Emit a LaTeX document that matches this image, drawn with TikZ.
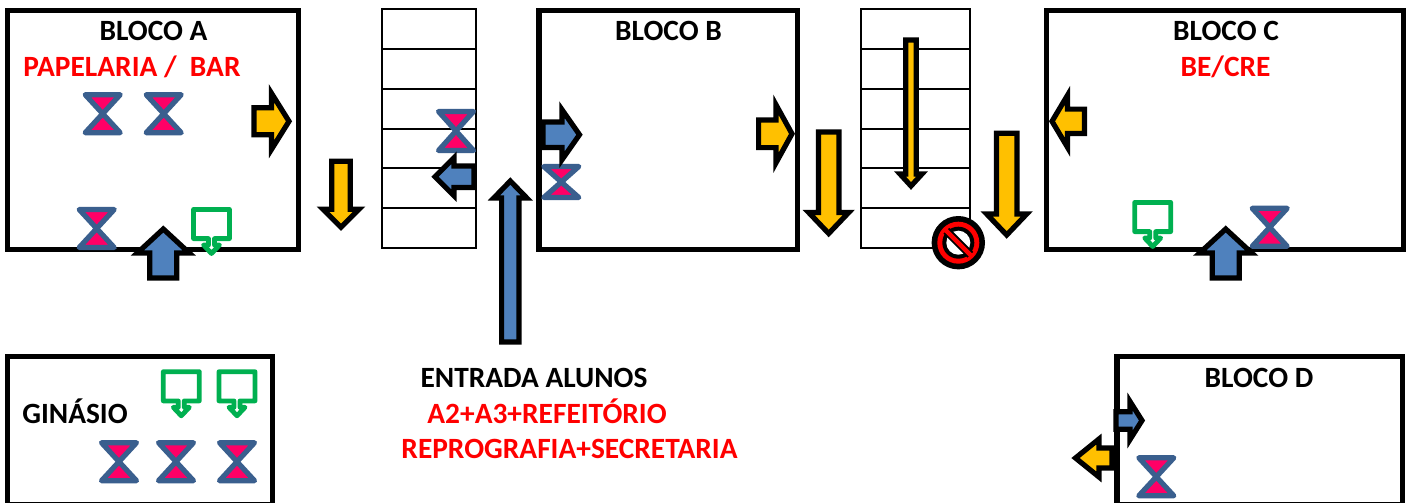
\documentclass[tikz,border=0pt]{standalone}
\usepackage{fontspec}
\setmainfont{Carlito}
\definecolor{barblue}{HTML}{4F81BD}
\definecolor{baryellow}{HTML}{FFC000}
\definecolor{hgline}{HTML}{3A5F8E}
\definecolor{hgfill}{HTML}{FF0066}
\definecolor{callgreen}{HTML}{00B050}
\tikzset{
  wall/.style={draw=black,line width=2.6pt,fill=white,miter limit=10},
  stairline/.style={draw=black,line width=1pt},
  blocktxt/.style={font=\fontsize{14.7pt}{16pt}\selectfont\bfseries,text=black,inner sep=0pt,anchor=mid},
  redtxt/.style={blocktxt,text=red},
  flowarrow/.style={draw=black,line width=2.6pt,miter limit=10,line join=miter},
  hourglass/.style={draw=hgline,fill=hgfill,line width=2.6pt,line join=round},
  speech/.style={draw=callgreen,fill=white,line width=2.4pt,line join=round},
}
% tail x, tail y, angle, length, shaft half, head half, head length, colour
\newcommand\arw[8]{%
  \begin{scope}[shift={(#1,#2)},rotate=#3]
    \filldraw[flowarrow,fill=#8] (0,-#5) -- ({#4-#7},-#5) -- ({#4-#7},-#6) -- (#4,0) -- ({#4-#7},#6) -- ({#4-#7},#5) -- (0,#5) -- cycle;
  \end{scope}}
% centre x, centre y, half height
\newcommand\hg[3]{%
  \filldraw[hourglass] ({#1-17.5},{#2-#3}) -- ({#1+17.5},{#2-#3}) -- ({#1-17.5},{#2+#3}) -- ({#1+17.5},{#2+#3}) -- cycle;}
% centre x, top y (outer)
\newcommand\callout[2]{%
  \begin{scope}[shift={(#1,#2)}]
    \filldraw[speech] (-18,2.4) -- (18,2.4) -- (18,31.6) -- (3,31.6) -- (3,38) -- (8,38) -- (0,46.5) -- (-8,38) -- (-3,38) -- (-3,31.6) -- (-18,31.6) -- cycle;
  \end{scope}}
\begin{document}
\begin{tikzpicture}[x=0.5pt,y=-0.5pt]
\useasboundingbox (0,0) rectangle (1414,503);
\clip (0,0) rectangle (1414,503);
\fill[white] (0,0) rectangle (1414,503);
% blocks
\draw[wall] (7.5,10.5) rectangle (298.5,249.5);
\draw[wall] (539,10.5) rectangle (797.5,249.5);
\draw[wall] (1046.5,10.5) rectangle (1403.5,249.5);
\draw[wall] (7.5,356.5) rectangle (272.5,505);
\draw[wall] (1117,356.5) rectangle (1402.5,505);
% stairs
\foreach \xa/\xb in {382/476,861/970}{
  \draw[stairline] (\xa,9) rectangle (\xb,248);
  \foreach \yy in {49,89,129,168,208}{\draw[stairline] (\xa,\yy) -- (\xb,\yy);}
}
% texts
\node[blocktxt] (ta) at (153.5,36) {BLOCO A};
\node[redtxt] (tpap) at (132,72) {PAPELARIA /\ \ BAR};
\node[blocktxt] (tb) at (668.5,36) {BLOCO B};
\node[blocktxt] (tc) at (1226,36) {BLOCO C};
\node[redtxt] (tbe) at (1225.5,72) {BE/CRE};
\node[blocktxt] (td) at (1259,383) {BLOCO D};
\node[blocktxt] (tg) at (75,419) {GINÁSIO};
\node[blocktxt] (te) at (534,383) {ENTRADA ALUNOS};
\node[redtxt] (t1) at (547,419) {A2+A3+REFEITÓRIO};
\node[redtxt] (t2) at (569.5,454) {REPROGRAFIA+SECRETARIA};
% hourglasses
\hg{102.7}{113.7}{19}
\hg{163.7}{113.7}{19}
\hg{96.7}{228.5}{19}
\hg{456}{131}{19.5}
\hg{561.3}{182}{15.5}
\hg{1269.7}{227.3}{19}
\hg{1156.3}{476.8}{19}
\hg{119}{461.7}{19}
\hg{176}{461.7}{19}
\hg{237}{461.7}{19}
% callouts
\callout{211.5}{207}
\callout{1152.7}{200}
\callout{181.3}{369.3}
\callout{237}{369.3}
% arrows
\arw{254}{121.3}{0}{35}{13.5}{28}{17.5}{baryellow}
\arw{341}{161.3}{-90}{66}{9.2}{18}{18}{baryellow}
\arw{163.3}{278}{90}{49}{13.5}{26}{24}{barblue}
\arw{474}{176.7}{180}{39}{10.8}{19}{19}{barblue}
\arw{510.3}{342}{90}{161}{8.7}{16.5}{17}{barblue}
\arw{543}{134.7}{0}{36.5}{12.8}{25}{17.5}{barblue}
\arw{758.6}{133.8}{0}{33.4}{13.8}{29}{16}{baryellow}
\arw{828.7}{132}{-90}{101.5}{10.3}{20}{21}{baryellow}
\arw{911}{40}{-90}{146}{5.3}{11}{12}{baryellow}
\arw{1006.7}{133.3}{-90}{101.7}{10.2}{20}{21}{baryellow}
\arw{1084.5}{121.3}{180}{32.5}{12.2}{26}{15.5}{baryellow}
\arw{1225.7}{278}{90}{49}{13.5}{26}{24}{barblue}
\arw{1116}{420.5}{0}{26}{8.7}{19}{12}{barblue}
\arw{1112}{458}{180}{36.5}{10}{19}{23.5}{baryellow}
% prohibition sign
\begin{scope}[shift={(958.3,242.7)}]
  \fill[black] (0,0) circle[radius=26.7];
  \fill[red] (0,0) circle[radius=21];
  \fill[black] (0,0) circle[radius=16];
  \fill[white] (0,0) circle[radius=12];
  \draw[black,line width=4pt] (-12,-12) -- (12,12);
  \draw[red,line width=2.2pt] (-14,-14) -- (14,14);
\end{scope}
\end{tikzpicture}
\end{document}
